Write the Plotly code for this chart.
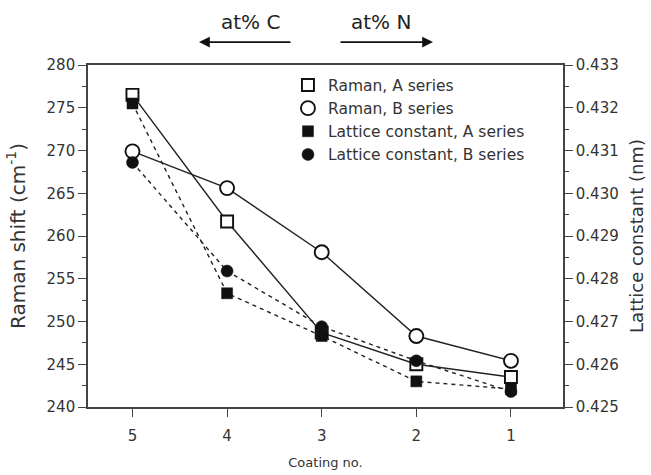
import plotly.graph_objects as go

coating = [5, 4, 3, 2, 1]
raman_a = [276.5, 261.7, 248.7, 245.0, 243.5]
raman_b = [269.9, 265.6, 258.1, 248.3, 245.4]
lattice_a = [0.43210, 0.42766, 0.42666, 0.42560, 0.42542]
lattice_b = [0.43072, 0.42818, 0.42688, 0.42608, 0.42536]

FONT = "DejaVu Sans, Liberation Sans, Arial, sans-serif"
INK = "#222222"
AX = "#444444"

fig = go.Figure()

# connecting lines (no legend entries)
fig.add_trace(go.Scatter(x=coating, y=raman_a, mode="lines", line=dict(color=INK, width=1.4),
                         showlegend=False, hoverinfo="skip"))
fig.add_trace(go.Scatter(x=coating, y=raman_b, mode="lines", line=dict(color=INK, width=1.4),
                         showlegend=False, hoverinfo="skip"))
fig.add_trace(go.Scatter(x=coating, y=lattice_a, mode="lines", yaxis="y2",
                         line=dict(color=INK, width=1.4, dash="4px,4px"), showlegend=False, hoverinfo="skip"))
fig.add_trace(go.Scatter(x=coating, y=lattice_b, mode="lines", yaxis="y2",
                         line=dict(color=INK, width=1.4, dash="4px,4px"), showlegend=False, hoverinfo="skip"))

# markers (with legend)
fig.add_trace(go.Scatter(x=coating, y=raman_a, mode="markers", name="Raman, A series",
                         marker=dict(symbol="square", size=12, color="white", line=dict(color="#111", width=1.9))))
fig.add_trace(go.Scatter(x=coating, y=raman_b, mode="markers", name="Raman, B series",
                         marker=dict(symbol="circle", size=14, color="white", line=dict(color="#111", width=1.9))))
fig.add_trace(go.Scatter(x=coating, y=lattice_a, mode="markers", name="Lattice constant, A series", yaxis="y2",
                         marker=dict(symbol="square", size=11, color="#111", line=dict(color="#111", width=0.5))))
fig.add_trace(go.Scatter(x=coating, y=lattice_b, mode="markers", name="Lattice constant, B series", yaxis="y2",
                         marker=dict(symbol="circle", size=12, color="#111", line=dict(color="#111", width=0.5))))

axis_common = dict(showgrid=False, zeroline=False, showline=True, linecolor=AX, linewidth=1.6,
                   ticks="outside", tickcolor=AX, tickwidth=1.3, ticklen=8, automargin=False,
                   tickfont=dict(family=FONT, size=15, color="#333"))

fig.update_layout(
    width=651, height=475,
    margin=dict(l=88, r=88, t=65, b=68),
    paper_bgcolor="white", plot_bgcolor="white",
    font=dict(family=FONT, color="#333"),
    xaxis=dict(**axis_common, range=[5.47, 0.45], tickvals=coating, mirror=True, ticklabelstandoff=6,
               title=dict(text="Coating no.", font=dict(family=FONT, size=13, color="#333"), standoff=14)),
    yaxis=dict(**axis_common, range=[240, 280], dtick=5,
               minor=dict(ticks="outside", ticklen=4, dtick=2.5, tickcolor=AX),
               title=dict(text="Raman shift (cm<sup>-1</sup>)", font=dict(family=FONT, size=20, color="#333"),
                          standoff=16)),
    yaxis2=dict(**axis_common, overlaying="y", side="right", range=[0.425, 0.433], dtick=0.001,
                tickformat=".3f", minor=dict(ticks="outside", ticklen=4, dtick=0.0005, tickcolor=AX),
                title=dict(text="Lattice constant (nm)", font=dict(family=FONT, size=18, color="#333"),
                           standoff=13)),
    legend=dict(x=0.421, y=0.99, xanchor="left", yanchor="top", bgcolor="rgba(0,0,0,0)",
                font=dict(family=FONT, size=15.5, color="#333"), tracegroupgap=0, itemwidth=30),
    annotations=[
        dict(text="at% C", x=(250 - 88) / 475, y=1.125, xref="paper", yref="paper", showarrow=False,
             xanchor="center", yanchor="middle", font=dict(family=FONT, size=20, color="#222")),
        dict(text="at% N", x=(381 - 88) / 475, y=1.125, xref="paper", yref="paper", showarrow=False,
             xanchor="center", yanchor="middle", font=dict(family=FONT, size=20, color="#222")),
        dict(text="", x=(199 - 88) / 475, y=1.067, xref="paper", yref="paper", showarrow=True,
             ax=93, ay=0, arrowhead=2, arrowsize=1.2, arrowwidth=1.8, arrowcolor="#111"),
        dict(text="", x=(433 - 88) / 475, y=1.067, xref="paper", yref="paper", showarrow=True,
             ax=-94, ay=0, arrowhead=2, arrowsize=1.2, arrowwidth=1.8, arrowcolor="#111"),
    ],
)

fig.write_html("out.html")
